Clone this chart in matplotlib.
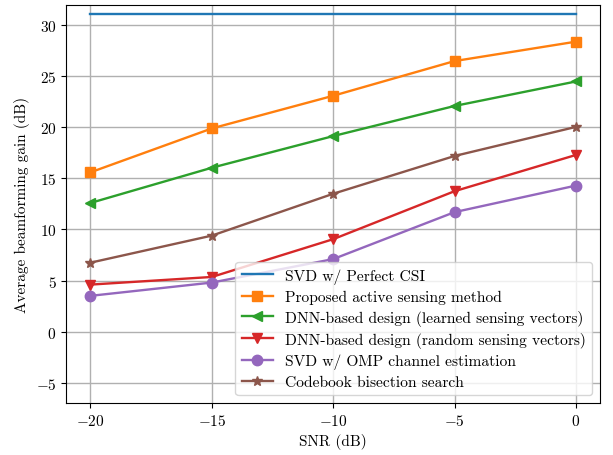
import numpy as np
import matplotlib
matplotlib.use("Agg")
import matplotlib.pyplot as plt

plt.rcParams['font.family'] = 'cmr10'
plt.rcParams['mathtext.fontset'] = 'cm'
plt.rcParams['axes.formatter.use_mathtext'] = True
plt.rcParams['font.size'] = 11

snr = [-20, -15, -10, -5, 0]
svd_perfect = [31.1, 31.1, 31.1, 31.1, 31.1]
proposed = [15.6, 19.9, 23.1, 26.5, 28.4]
dnn_learned = [12.6, 16.05, 19.15, 22.1, 24.5]
dnn_random = [4.6, 5.35, 9.05, 13.75, 17.3]
svd_omp = [3.5, 4.8, 7.1, 11.7, 14.3]
codebook = [6.75, 9.4, 13.5, 17.2, 20.05]

fig = plt.figure(figsize=(6.13, 4.56), dpi=100)
ax = fig.add_axes([0.108, 0.114, 0.871, 0.873])

lw = 1.7
ms = 7.5
ax.plot(snr, svd_perfect, '-', color='C0', lw=lw, label='SVD w/ Perfect CSI')
ax.plot(snr, proposed, 's-', color='C1', lw=lw, ms=ms, label='Proposed active sensing method')
ax.plot(snr, dnn_learned, '<-', color='C2', lw=lw, ms=ms, label='DNN-based design (learned sensing vectors)')
ax.plot(snr, dnn_random, 'v-', color='C3', lw=lw, ms=ms, label='DNN-based design (random sensing vectors)')
ax.plot(snr, svd_omp, 'o-', color='C4', lw=lw, ms=ms, label='SVD w/ OMP channel estimation')
ax.plot(snr, codebook, '*-', color='C5', lw=lw, ms=ms, label='Codebook bisection search')

ax.set_ylim(-7, 32)
ax.set_xticks([-20, -15, -10, -5, 0])
ax.set_yticks([-5, 0, 5, 10, 15, 20, 25, 30])
ax.grid(True, color='#b0b0b0', lw=1.0)
ax.set_xlabel('SNR (dB)')
ax.set_ylabel('Average beamforming gain (dB)')
ax.legend(loc='lower right', fontsize=11.2, labelspacing=0.38)

fig.savefig('out.png', dpi=100)
